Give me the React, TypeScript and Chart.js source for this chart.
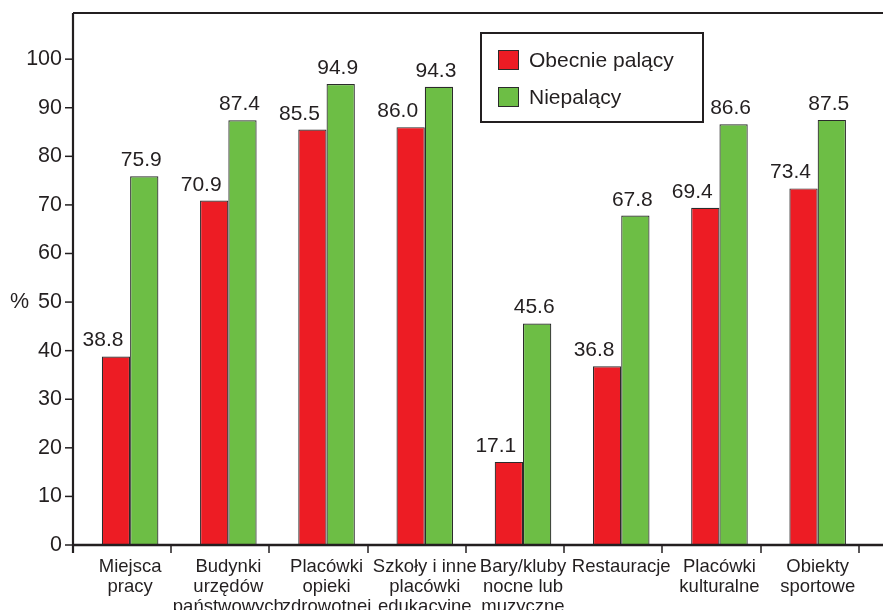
import React, { useEffect, useRef } from 'react';
import { Chart, registerables } from 'chart.js';

Chart.register(...registerables);

// ---- data ----
const categories: string[][] = [
  ['Miejsca', 'pracy'],
  ['Budynki', 'urzędów', 'państwowych'],
  ['Placówki', 'opieki', 'zdrowotnej'],
  ['Szkoły i inne', 'placówki', 'edukacyjne'],
  ['Bary/kluby', 'nocne lub', 'muzyczne'],
  ['Restauracje'],
  ['Placówki', 'kulturalne'],
  ['Obiekty', 'sportowe'],
];
const smokers = [38.8, 70.9, 85.5, 86.0, 17.1, 36.8, 69.4, 73.4];
const nonSmokers = [75.9, 87.4, 94.9, 94.3, 45.6, 67.8, 86.6, 87.5];
const seriesNames = ['Obecnie palący', 'Niepalący'];
const yAxisTitle = '%';
const yTickMax = 100;
const yTickStep = 10;

const FONT = "'Liberation Sans', Arial, Helvetica, sans-serif";
const TEXT = '#231f20';
const RED = '#ed1c24';
const GREEN = '#6dbe45';
const EDGE = '#2b2b2b';

const framePlugin = {
  id: 'frame',
  afterDatasetsDraw(chart: any) {
    const { ctx, chartArea, scales } = chart;
    const x = scales.x;
    const y = scales.y;
    const shift = 8;
    const x0 = x.getPixelForValue(-0.5) - shift;
    const line = (a: number, b: number, c: number, d: number) => {
      ctx.beginPath();
      ctx.moveTo(a, b);
      ctx.lineTo(c, d);
      ctx.stroke();
    };
    ctx.save();
    ctx.strokeStyle = TEXT;
    ctx.lineWidth = 2.2;
    line(x0, chartArea.top, chart.width, chartArea.top);
    line(x0, chartArea.top, x0, chartArea.bottom + 8);
    ctx.lineWidth = 2.5;
    line(x0 - 1, chartArea.bottom, chart.width, chartArea.bottom);
    ctx.lineWidth = 1.5;
    y.ticks.forEach((t: any) => {
      const py = y.getPixelForValue(t.value);
      line(x0 - 8, py, x0, py);
    });
    for (let i = 1; i <= x.ticks.length; i++) {
      const px = Math.round(x.getPixelForValue(i - 0.5) - shift);
      line(px, chartArea.bottom, px, chartArea.bottom + 8);
    }
    // axis title
    ctx.fillStyle = TEXT;
    ctx.font = `21.5px ${FONT}`;
    ctx.textAlign = 'left';
    ctx.textBaseline = 'middle';
    ctx.fillText(yAxisTitle, 10, y.getPixelForValue(50));

    // value labels
    const offsets = [-13, -3];
    ctx.font = `21px ${FONT}`;
    ctx.textAlign = 'center';
    ctx.textBaseline = 'alphabetic';
    chart.data.datasets.forEach((ds: any, di: number) => {
      const meta = chart.getDatasetMeta(di);
      meta.data.forEach((el: any, i: number) => {
        const v = ds.data[i];
        if (v == null) return;
        ctx.fillText(Number(v).toFixed(1), el.x + offsets[di], el.y - 10);
      });
    });

    // legend
    const lx = 481, ly = 33, lw = 222, lh = 89;
    ctx.lineWidth = 2;
    ctx.strokeStyle = TEXT;
    ctx.strokeRect(lx, ly, lw, lh);
    const colors = [RED, GREEN];
    const rows = [50, 87];
    ctx.font = `21px ${FONT}`;
    ctx.textAlign = 'left';
    ctx.textBaseline = 'middle';
    seriesNames.forEach((name, i) => {
      ctx.fillStyle = colors[i];
      ctx.fillRect(498, rows[i], 21, 20);
      ctx.lineWidth = 1;
      ctx.strokeStyle = EDGE;
      ctx.strokeRect(498.5, rows[i] + 0.5, 20, 19);
      ctx.fillStyle = TEXT;
      ctx.fillText(name, 529, rows[i] + 11);
    });
    ctx.restore();
  },
};

export default function App() {
  const ref = useRef<HTMLCanvasElement | null>(null);
  useEffect(() => {
    if (!ref.current) return;
    const chart = new Chart(ref.current, {
      type: 'bar',
      data: {
        labels: [...categories, ''],
        datasets: [
          {
            label: seriesNames[0],
            data: smokers,
            backgroundColor: RED,
            borderColor: EDGE,
            borderWidth: 1.2,
          },
          {
            label: seriesNames[1],
            data: nonSmokers,
            backgroundColor: GREEN,
            borderColor: EDGE,
            borderWidth: 1.2,
          },
        ],
      },
      options: {
        responsive: false,
        animation: false,
        devicePixelRatio: 1,
        events: [],
        layout: { padding: { top: 13, right: 5, bottom: 0, left: 0 } },
        datasets: { bar: { barPercentage: 1, categoryPercentage: 0.576 } },
        plugins: { legend: { display: false }, tooltip: { enabled: false } },
        scales: {
          x: {
            grid: { display: false, drawTicks: false },
            border: { display: false },
            ticks: {
              autoSkip: false,
              maxRotation: 0,
              minRotation: 0,
              padding: 12,
              color: TEXT,
              font: { family: FONT, size: 18.5, lineHeight: 20 / 18.5 },
            },
            afterFit: (s: any) => {
              s.height = 65;
              s.paddingLeft = 0;
              s.paddingRight = 0;
            },
          },
          y: {
            min: 0,
            max: 109.5,
            grid: { display: false, drawTicks: false },
            border: { display: false },
            ticks: {
              stepSize: yTickStep,
              padding: 19,
              color: TEXT,
              font: { family: FONT, size: 21.5 },
            },
            afterBuildTicks: (s: any) => {
              s.ticks = s.ticks.filter((t: any) => t.value <= yTickMax && t.value % yTickStep === 0);
            },
            afterFit: (s: any) => {
              s.width = 81;
              s.paddingTop = 0;
              s.paddingBottom = 0;
            },
          },
        },
      },
      plugins: [framePlugin],
    });
    return () => chart.destroy();
  }, []);
  return (
    <div
      style={{
        position: 'fixed',
        left: 0,
        top: 0,
        width: 883,
        height: 610,
        overflow: 'hidden',
        background: '#fff',
      }}
    >
      <canvas ref={ref} width={970} height={610} style={{ display: 'block' }} />
    </div>
  );
}
